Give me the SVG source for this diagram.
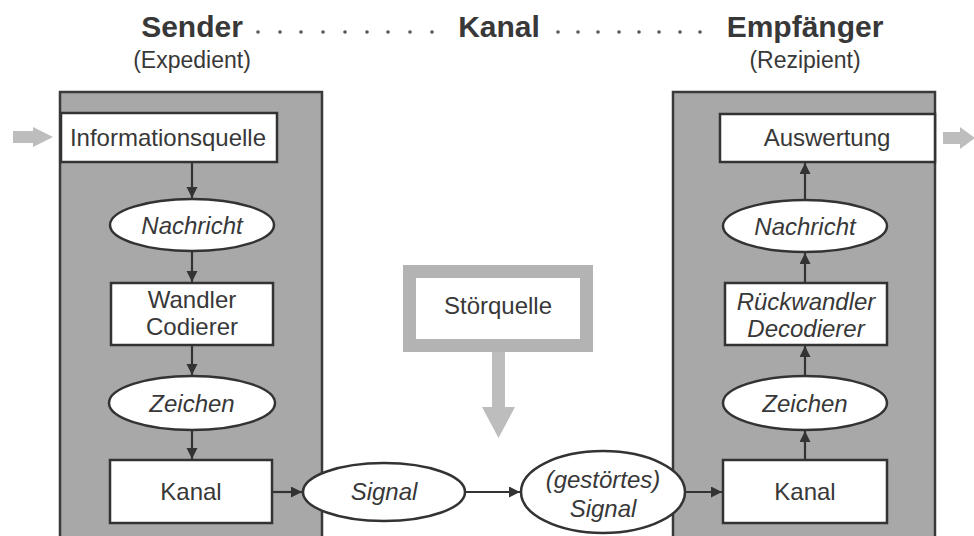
<svg xmlns="http://www.w3.org/2000/svg" width="974" height="536" viewBox="0 0 974 536">
<defs>
<marker id="ah" markerUnits="userSpaceOnUse" markerWidth="12" markerHeight="12" refX="11" refY="5.5" orient="auto">
<path d="M0,0 L11,5.5 L0,11 z" fill="#333"/>
</marker>
</defs>
<style>
.panel{fill:#a8a8a8;stroke:#3a3a3a;stroke-width:2.5}
.box{fill:#fff;stroke:#333;stroke-width:2.5}
.t{font-family:"Liberation Sans",Arial,sans-serif;font-size:24px;fill:#383838;text-anchor:middle}
.i{font-style:italic}
.h{font-weight:bold;font-size:30px}
.s{font-size:23px}
.c{stroke:#333;stroke-width:2.2;fill:none;marker-end:url(#ah)}
.dot{fill:#555}
.g{fill:#bdbdbd}
</style>
<rect width="974" height="536" fill="#fff"/>

<g id="header">
<text class="t h" x="192" y="37">Sender</text>
<text class="t s" x="192" y="68">(Expedient)</text>
<text class="t h" x="499" y="37">Kanal</text>
<text class="t h" x="805" y="37">Empfänger</text>
<text class="t s" x="805" y="68">(Rezipient)</text>
<g class="dot">
<circle cx="258" cy="32" r="1.8"/><circle cx="280" cy="32" r="1.8"/><circle cx="301" cy="32" r="1.8"/><circle cx="323" cy="32" r="1.8"/><circle cx="345" cy="32" r="1.8"/><circle cx="367" cy="32" r="1.8"/><circle cx="388" cy="32" r="1.8"/><circle cx="410" cy="32" r="1.8"/><circle cx="432" cy="32" r="1.8"/>
<circle cx="558" cy="32" r="1.8"/><circle cx="578" cy="32" r="1.8"/><circle cx="598" cy="32" r="1.8"/><circle cx="619" cy="32" r="1.8"/><circle cx="639" cy="32" r="1.8"/><circle cx="659" cy="32" r="1.8"/><circle cx="680" cy="32" r="1.8"/><circle cx="700" cy="32" r="1.8"/>
</g>
</g>

<g id="sender-panel"><rect class="panel" x="60" y="92" width="262" height="460"/></g>
<g id="receiver-panel"><rect class="panel" x="673" y="92" width="262" height="460"/></g>

<g id="input-arrow"><polygon class="g" points="13,131 33,131 33,127 53,137 33,147 33,143 13,143"/></g>
<g id="output-arrow"><polygon class="g" points="943,132 960,132 960,127 975,138 960,149 960,144 943,144"/></g>

<g id="informationsquelle"><rect class="box" x="61" y="113" width="216" height="49"/><text class="t" x="168" y="146">Informationsquelle</text></g>
<g id="nachricht-s"><ellipse class="box" cx="192" cy="225" rx="82" ry="26"/><text class="t i" x="192" y="234">Nachricht</text></g>
<g id="wandler"><rect class="box" x="111" y="283" width="162" height="62"/><text class="t" x="192" y="308">Wandler</text><text class="t" x="192" y="335">Codierer</text></g>
<g id="zeichen-s"><ellipse class="box" cx="192" cy="403" rx="83" ry="27"/><text class="t i" x="192" y="412">Zeichen</text></g>
<g id="kanal-s"><rect class="box" x="110" y="460" width="162" height="63"/><text class="t" x="191" y="500">Kanal</text></g>

<g id="signal"><ellipse class="box" cx="384" cy="492" rx="81" ry="29"/><text class="t i" x="384" y="500">Signal</text></g>
<g id="gestoertes-signal"><ellipse class="box" cx="603" cy="492" rx="82" ry="41"/><text class="t i" x="603" y="488">(gestörtes)</text><text class="t i" x="603" y="517">Signal</text></g>

<g id="stoerquelle"><rect x="409.5" y="271.5" width="177" height="74" fill="#fff" stroke="#b3b3b3" stroke-width="13"/><text class="t" x="498" y="314">Störquelle</text>
<polygon class="g" points="492,352 505,352 505,407 515,407 498.5,438 482,407 492,407"/></g>

<g id="auswertung"><rect class="box" x="720" y="114" width="215" height="48"/><text class="t" x="827" y="146">Auswertung</text></g>
<g id="nachricht-r"><ellipse class="box" cx="805" cy="226" rx="82" ry="26"/><text class="t i" x="805" y="235">Nachricht</text></g>
<g id="rueckwandler"><rect class="box" x="725" y="283" width="162" height="62"/><text class="t i" x="806" y="310">Rückwandler</text><text class="t i" x="806" y="337">Decodierer</text></g>
<g id="zeichen-r"><ellipse class="box" cx="805" cy="403" rx="82" ry="27"/><text class="t i" x="805" y="412">Zeichen</text></g>
<g id="kanal-r"><rect class="box" x="723" y="460" width="164" height="63"/><text class="t" x="805" y="500">Kanal</text></g>

<g id="connectors">
<line class="c" x1="192" y1="163" x2="192" y2="198"/>
<line class="c" x1="192" y1="252" x2="192" y2="282"/>
<line class="c" x1="192" y1="346" x2="192" y2="375"/>
<line class="c" x1="192" y1="431" x2="192" y2="459"/>
<line class="c" x1="273" y1="492" x2="302" y2="492"/>
<line class="c" x1="466" y1="492" x2="520" y2="492"/>
<line class="c" x1="685" y1="492" x2="722" y2="492"/>
<line class="c" x1="805" y1="459" x2="805" y2="431"/>
<line class="c" x1="805" y1="375" x2="805" y2="346"/>
<line class="c" x1="805" y1="282" x2="805" y2="253"/>
<line class="c" x1="805" y1="199" x2="805" y2="163"/>
</g>
</svg>
